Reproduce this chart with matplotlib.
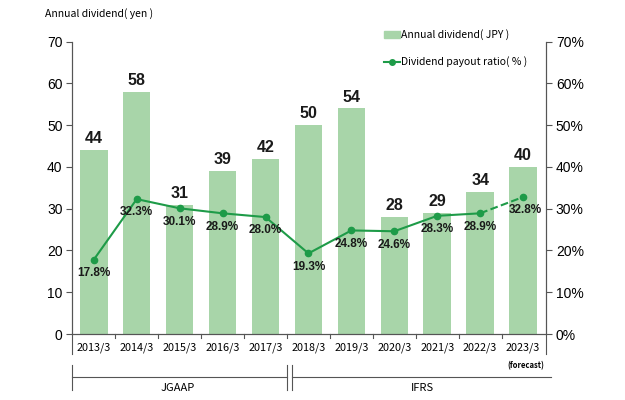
import numpy as np
import matplotlib
matplotlib.use("Agg")
import matplotlib.pyplot as plt
from matplotlib.lines import Line2D
from matplotlib.patches import Patch

plt.rcParams['font.family'] = ['Noto Sans CJK JP', 'DejaVu Sans']

# データ
years = ['2013/3', '2014/3', '2015/3', '2016/3', '2017/3', '2018/3',
         '2019/3', '2020/3', '2021/3', '2022/3', '2023/3']
dividend = [44, 58, 31, 39, 42, 50, 54, 28, 29, 34, 40]
payout = [17.8, 32.3, 30.1, 28.9, 28.0, 19.3, 24.8, 24.6, 28.3, 28.9, 32.8]

bar_color = '#a8d5a9'
line_color = '#1e9b48'
grey = '#555555'
num_font = ['Liberation Sans', 'DejaVu Sans']

W, H = 625, 400
fig = plt.figure(figsize=(W / 100, H / 100), dpi=100)
ax = fig.add_axes([0.1157, 0.165, 0.758, 0.7308])
ax2 = ax.twinx()

x = np.arange(len(years))
ax.bar(x, dividend, width=0.64, color=bar_color, zorder=2)
for xi, v in zip(x, dividend):
    ax.text(xi, v + 0.9, str(v), ha='center', va='bottom',
            fontsize=11.5, fontweight='bold', family=num_font, color='#1a1a1a')

ax.set_xlim(-0.5, 10.535)
ax.set_ylim(0, 70)
ax.set_yticks(range(0, 71, 10))
ax2.set_ylim(0, 70)
ax2.set_yticks(range(0, 71, 10))
ax2.set_yticklabels([f'{t}%' for t in range(0, 71, 10)])

# 配当性向
ax2.plot(x[:-1], payout[:-1], '-o', color=line_color, lw=1.5, ms=4.5, zorder=3)
ax2.plot(x[-2:], payout[-2:], '--', color=line_color, lw=1.5, zorder=3)
ax2.plot(x[-1], payout[-1], 'o', color=line_color, ms=4.5, zorder=3)
for xi, v in zip(x, payout):
    dx = 0.05 if xi == len(years) - 1 else 0
    ax2.text(xi + dx, v - 3.2, f'{v:.1f}%', ha='center', va='center',
             fontsize=8.5, fontweight='bold', family=num_font, color='#1a1a1a')

for a in (ax, ax2):
    a.spines['top'].set_visible(False)
    a.tick_params(axis='y', labelsize=10, color=grey, length=4, pad=3)
    for s in ('left', 'right', 'bottom'):
        a.spines[s].set_color(grey)
    for lab in a.get_yticklabels():
        lab.set_family(num_font)
ax.set_xticks(x)
ax.set_xticklabels(years)
ax.tick_params(axis='x', length=0, labelsize=7.8, pad=6)

# 年ラベルの区切り
tr = ax.get_xaxis_transform()
for b in np.arange(0.5, len(years) - 1, 1.0):
    ax.plot([b, b], [0, -4 / (0.7308 * H)], transform=tr, color=grey, lw=0.8, clip_on=False)
for b in (-0.5, 10.535):
    ax.plot([b, b], [0, -20 / (0.7308 * H)], transform=tr, color=grey, lw=0.8, clip_on=False)


# JGAAP / IFRS の括弧 (figure pixel coords)
def fline(xs, ys):
    fig.add_artist(Line2D([p / W for p in xs], [1 - p / H for p in ys],
                          color=grey, lw=0.8))


fline([72.3, 286.5], [377, 377])
fline([292, 551], [377, 377])
for px in (72.3, 286.5, 292):
    fline([px, px], [365, 390])
fig.text(178 / W, 1 - 388 / H, 'JGAAP', ha='center', va='center', fontsize=8)
fig.text(422 / W, 1 - 388 / H, 'IFRS', ha='center', va='center', fontsize=8)
fig.text(526 / W, 1 - 366 / H, '(forecast)', ha='center', va='center',
         fontsize=5.5, fontweight='bold')

fig.text(45 / W, 1 - 14 / H, 'Annual dividend( yen )', fontsize=7.5, va='center')

# 凡例
handles = [Patch(color=bar_color),
           Line2D([], [], color=line_color, marker='o', ms=4, lw=1.5)]
fig.legend(handles, ['Annual dividend( JPY )', 'Dividend payout ratio( % )'],
           loc='upper left', bbox_to_anchor=(380 / W, 1 - 25 / H), frameon=False,
           fontsize=7.5, handlelength=1.5, handleheight=0.6, handletextpad=0.15,
           labelspacing=1.55, borderaxespad=0)

fig.savefig('out.png', dpi=100)
